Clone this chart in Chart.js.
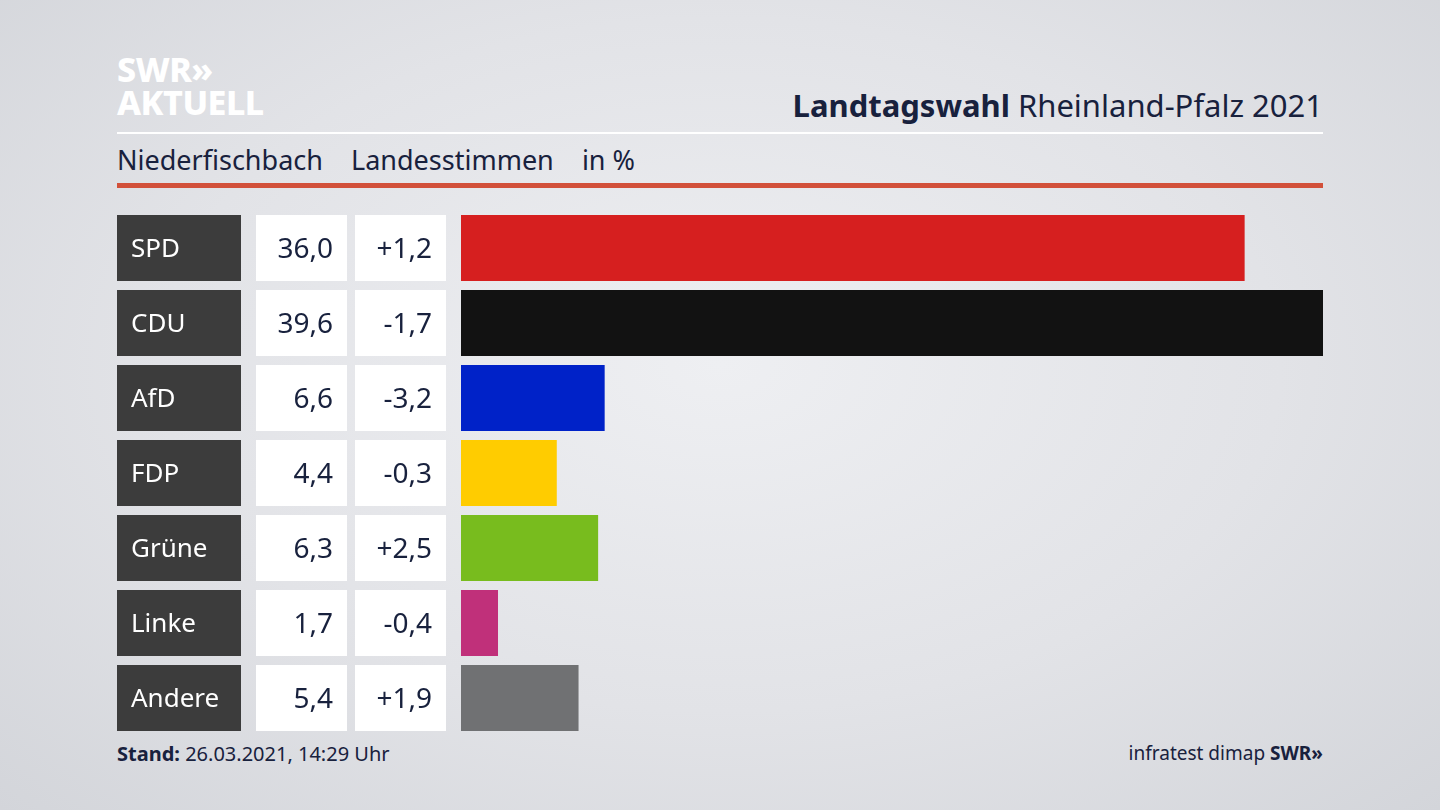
<!DOCTYPE html>
<html><head><meta charset="utf-8">
<script src="https://cdn.jsdelivr.net/npm/chart.js@4"></script>
<style>
html,body{margin:0;padding:0;width:1440px;height:810px;overflow:hidden;font-family:"Noto Sans",sans-serif;}
body{background:radial-gradient(ellipse at 50% 45%,#eeeff2 0%,#e2e3e7 55%,#d3d5da 100%);position:relative;}
#c{position:absolute;left:0;top:0;}
.t{position:absolute;white-space:nowrap;color:#18213d;}
</style></head><body>
<div class="t" style="left:117px;top:53px;color:#fff;font-weight:800;font-size:34px;line-height:33px;letter-spacing:-0.5px">SWR&#187;<br>AKTUELL</div>
<div class="t" style="right:117px;top:84px;font-size:31px"><b>Landtagswahl</b> Rheinland-Pfalz 2021</div>
<div style="position:absolute;left:117px;top:132px;width:1206px;height:2px;background:#fff"></div>
<div class="t" style="left:117px;top:141px;font-size:27px">Niederfischbach&nbsp;&nbsp;&nbsp;&nbsp;Landesstimmen&nbsp;&nbsp;&nbsp;&nbsp;in %</div>
<div style="position:absolute;left:117px;top:183px;width:1206px;height:5px;background:#d2503a"></div>
<div class="t" style="left:117px;top:740px;font-size:20px"><b>Stand:</b> 26.03.2021, 14:29 Uhr</div>
<div class="t" style="right:117px;top:740px;font-size:19px">infratest dimap <b>SWR&#187;</b></div>
<canvas id="c" width="1440" height="810"></canvas>
<script>
const parties=["SPD","CDU","AfD","FDP","Grüne","Linke","Andere"];
const shares=[36.0,39.6,6.6,4.4,6.3,1.7,5.4];
const diffs=["+1,2","-1,7","-3,2","-0,3","+2,5","-0,4","+1,9"];
const colors=["#d61f1f","#121212","#0022c8","#ffcc00","#78bc1e","#c0307a","#707173"];
const fmt=v=>v.toFixed(1).replace('.',',');
const boxes={id:'boxes',afterDatasetsDraw(ch){
  const c=ch.ctx;
  const meta=ch.getDatasetMeta(0);
  parties.forEach((p,i)=>{
    const el=meta.data[i];const h=el.height;const top=el.y-h/2;const ty=el.y+2;
    c.fillStyle="#3c3c3c";c.fillRect(117,top,124,h);
    c.fillStyle="#fff";c.fillRect(256,top,91,h);c.fillRect(355,top,91,h);
    c.textBaseline="middle";
    c.font='26px "Noto Sans"';c.fillStyle="#fff";c.textAlign="left";c.fillText(p,131,ty);
    c.font='28px "Noto Sans"';c.fillStyle="#18213d";c.textAlign="right";
    c.fillText(fmt(shares[i]),333,ty);c.fillText(diffs[i],432,ty);
  });
}};
new Chart(document.getElementById('c'),{type:'bar',
 data:{labels:parties,datasets:[{data:shares,backgroundColor:colors,barPercentage:0.88,categoryPercentage:1}]},
 options:{indexAxis:'y',responsive:false,animation:false,
  layout:{padding:{left:461,right:117,top:210.5,bottom:74.5}},
  scales:{x:{display:false,min:0,max:39.6},y:{display:false}},
  plugins:{legend:{display:false},tooltip:{enabled:false}}},
 plugins:[boxes]});
</script></body></html>
